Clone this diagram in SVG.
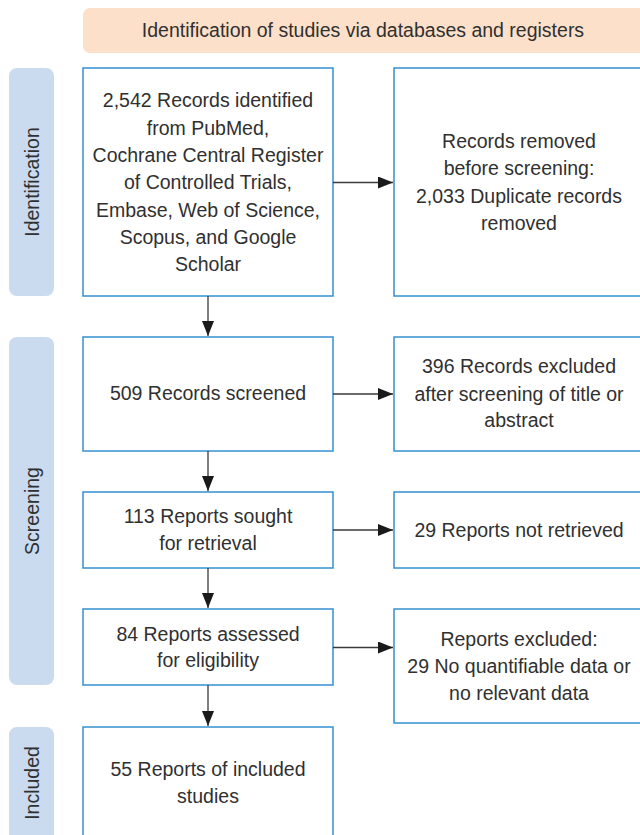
<svg xmlns="http://www.w3.org/2000/svg" width="640" height="835" viewBox="0 0 640 835">
<style>
.t{font-family:"Liberation Sans",Arial,sans-serif;font-size:19.5px;fill:#303030;text-anchor:middle}
.box{fill:#fff;stroke:#3490d0;stroke-width:1.5}
.lab{fill:#cadbf0}
.hdr{fill:#fde0ca}
.c{stroke:#3a3a3a;stroke-width:1.3;fill:none}
</style>
<defs>
<marker id="ah" markerUnits="userSpaceOnUse" markerWidth="16" markerHeight="12" refX="15" refY="6" orient="auto">
<path d="M0,0 L15,6 L0,12 Z" fill="#1a1a1a"/>
</marker>
</defs>
<g id="header">
<rect class="hdr" x="83" y="8" width="570" height="45" rx="7"/>
<text class="t" x="363" y="37">Identification of studies via databases and registers</text>
</g>
<g id="label-identification">
<rect class="lab" x="9" y="68" width="45" height="228" rx="8"/>
<text class="t" transform="translate(39,182) rotate(-90)" x="0" y="0">Identification</text>
</g>
<g id="label-screening">
<rect class="lab" x="9" y="337" width="45" height="348" rx="8"/>
<text class="t" transform="translate(39,511) rotate(-90)" x="0" y="0">Screening</text>
</g>
<g id="label-included">
<rect class="lab" x="9" y="727" width="45" height="120" rx="8"/>
<text class="t" transform="translate(39,783) rotate(-90)" x="0" y="0">Included</text>
</g>
<g id="n1">
<rect class="box" x="83" y="68" width="250" height="228"/>
<text class="t" x="208" y="107">2,542 Records identified</text>
<text class="t" x="208" y="134.5">from PubMed,</text>
<text class="t" x="208" y="162">Cochrane Central Register</text>
<text class="t" x="208" y="189">of Controlled Trials,</text>
<text class="t" x="208" y="216.5">Embase, Web of Science,</text>
<text class="t" x="208" y="244">Scopus, and Google</text>
<text class="t" x="208" y="271">Scholar</text>
</g>
<g id="n2">
<rect class="box" x="394" y="68" width="250" height="228"/>
<text class="t" x="519" y="147.5">Records removed</text>
<text class="t" x="519" y="175">before screening:</text>
<text class="t" x="519" y="202.5">2,033 Duplicate records</text>
<text class="t" x="519" y="229.5">removed</text>
</g>
<g id="n3">
<rect class="box" x="83" y="337" width="250" height="114"/>
<text class="t" x="208" y="400">509 Records screened</text>
</g>
<g id="n4">
<rect class="box" x="394" y="337" width="250" height="114"/>
<text class="t" x="519" y="373">396 Records excluded</text>
<text class="t" x="519" y="400.5">after screening of title or</text>
<text class="t" x="519" y="427">abstract</text>
</g>
<g id="n5">
<rect class="box" x="83" y="492" width="250" height="76"/>
<text class="t" x="208" y="522.5">113 Reports sought</text>
<text class="t" x="208" y="550">for retrieval</text>
</g>
<g id="n6">
<rect class="box" x="394" y="492" width="250" height="76"/>
<text class="t" x="519" y="536.5">29 Reports not retrieved</text>
</g>
<g id="n7">
<rect class="box" x="83" y="609" width="250" height="76"/>
<text class="t" x="208" y="640.5">84 Reports assessed</text>
<text class="t" x="208" y="667">for eligibility</text>
</g>
<g id="n8">
<rect class="box" x="394" y="609" width="250" height="114"/>
<text class="t" x="519" y="646">Reports excluded:</text>
<text class="t" x="519" y="673">29 No quantifiable data or</text>
<text class="t" x="519" y="700">no relevant data</text>
</g>
<g id="n9">
<rect class="box" x="83" y="727" width="250" height="120"/>
<text class="t" x="208" y="776">55 Reports of included</text>
<text class="t" x="208" y="802.5">studies</text>
</g>
<g id="connectors">
<line class="c" x1="333" y1="182.5" x2="393" y2="182.5" marker-end="url(#ah)"/>
<line class="c" x1="208" y1="296" x2="208" y2="336" marker-end="url(#ah)"/>
<line class="c" x1="333" y1="394" x2="393" y2="394" marker-end="url(#ah)"/>
<line class="c" x1="208" y1="451" x2="208" y2="491" marker-end="url(#ah)"/>
<line class="c" x1="333" y1="530" x2="393" y2="530" marker-end="url(#ah)"/>
<line class="c" x1="208" y1="568" x2="208" y2="608" marker-end="url(#ah)"/>
<line class="c" x1="333" y1="647.5" x2="393" y2="647.5" marker-end="url(#ah)"/>
<line class="c" x1="208" y1="685" x2="208" y2="726" marker-end="url(#ah)"/>
</g>
</svg>
